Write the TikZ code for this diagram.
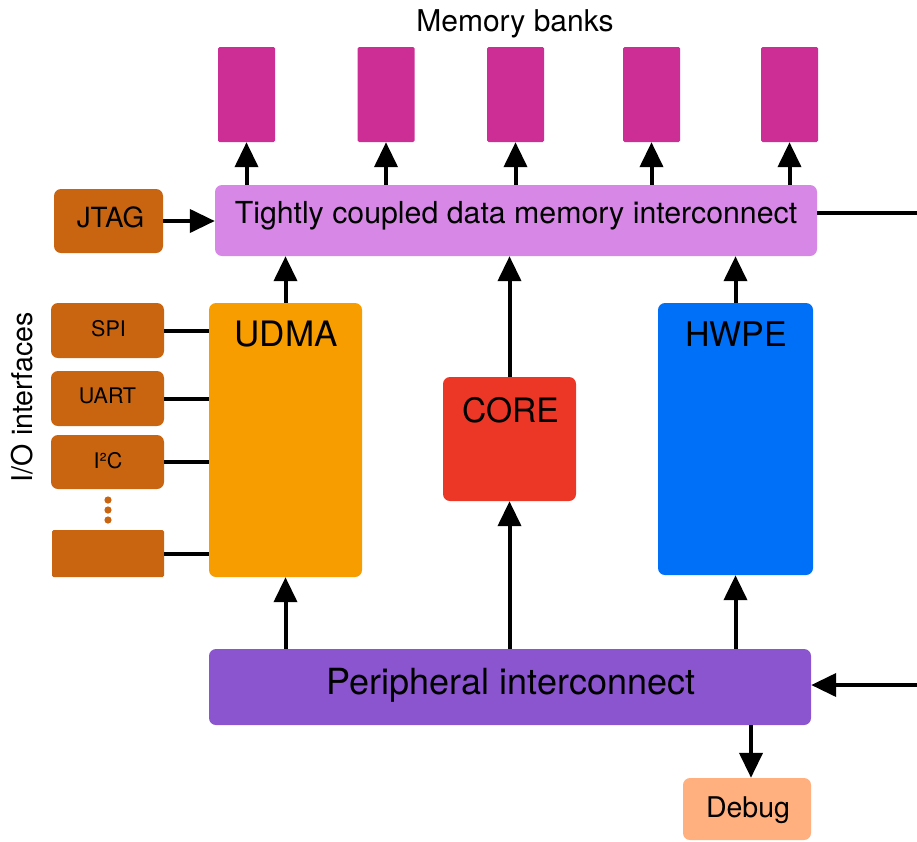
\documentclass[tikz,border=0pt]{standalone}
\usepackage{fontspec}
\setmainfont{TeX Gyre Heros}
\usetikzlibrary{arrows.meta}
\definecolor{bankc}{RGB}{204,46,150}
\definecolor{tcdmc}{RGB}{215,135,230}
\definecolor{ioc}{RGB}{201,101,17}
\definecolor{udmac}{RGB}{247,157,0}
\definecolor{corec}{RGB}{236,54,38}
\definecolor{hwpec}{RGB}{0,112,249}
\definecolor{perc}{RGB}{139,85,207}
\definecolor{dbgc}{RGB}{255,176,126}
\newcommand{\fs}[1]{\fontsize{#1}{#1}\selectfont}
\tikzset{
  box/.style={rectangle, rounded corners=7pt, inner sep=0pt, draw=none},
  bank/.style={rectangle, rounded corners=1.5pt, fill=bankc, minimum width=57pt, minimum height=95pt, inner sep=0pt},
  iobox/.style={box, fill=ioc, minimum width=113pt},
  lbl/.style={anchor=base, inner sep=0pt},
  arr/.style={line width=4pt, -{Triangle[length=25pt,width=23pt]}},
  ln/.style={line width=4pt},
}
\begin{document}
\begin{tikzpicture}[x=1pt,y=-1pt]
\useasboundingbox (0,0) rectangle (917,841);
% title
\node[lbl, font=\fs{30}] (title) at (515,31) {Memory banks};
% banks
\node[bank] (b1) at (246.5,94.5) {};
\node[bank] (b2) at (386,94.5) {};
\node[bank] (b3) at (515.5,94.5) {};
\node[bank] (b4) at (651.5,94.5) {};
\node[bank] (b5) at (789.5,94.5) {};
% TCDM
\node[box, fill=tcdmc, minimum width=602pt, minimum height=71pt] (tcdm) at (516,220.5) {};
\node[lbl, font=\fs{30.3}] (tcdmt) at (516,223) {Tightly coupled data memory interconnect};
% JTAG
\node[box, fill=ioc, minimum width=109pt, minimum height=64pt] (jtag) at (108.5,221) {};
\node[lbl, font=\fs{27.8}] (jtagt) at (110.5,227) {JTAG};
% IO
\node[lbl, rotate=90, font=\fs{28.6}] (iolab) at (32,397) {I/O interfaces};
\node[iobox, minimum height=55pt] (spi) at (107.5,330.5) {};
\node[lbl, font=\fs{21.5}] (spit) at (108.5,336) {SPI};
\node[iobox, minimum height=55pt] (uart) at (107.5,398.5) {};
\node[lbl, font=\fs{21.5}] (uartt) at (107.5,403) {UART};
\node[iobox, minimum height=54pt] (i2c) at (107.5,462) {};
\node[lbl, font=\fs{21.5}] (i2ct) at (108,468) {I²C};
\node[box, rounded corners=1.5pt, fill=ioc, minimum width=112pt, minimum height=47pt] (iox) at (108,553.5) {};
\foreach \yy in {500,510,520}
  \fill[ioc] (108,\yy) circle (3.6pt);
% UDMA, CORE, HWPE
\node[box, fill=udmac, minimum width=153pt, minimum height=274pt] (udma) at (285.5,440) {};
\node[lbl, font=\fs{35}] (udmat) at (286,346) {UDMA};
\node[box, fill=corec, minimum width=133pt, minimum height=124pt] (core) at (509.5,439) {};
\node[lbl, font=\fs{33.6}] (coret) at (510.5,422) {CORE};
\node[box, fill=hwpec, minimum width=155pt, minimum height=272pt] (hwpe) at (735.5,439) {};
\node[lbl, font=\fs{34}] (hwpet) at (736,346) {HWPE};
% Peripheral
\node[box, fill=perc, minimum width=602pt, minimum height=76pt] (per) at (510,687) {};
\node[lbl, font=\fs{36}] (pert) at (511,694) {Peripheral interconnect};
% Debug
\node[box, fill=dbgc, minimum width=128pt, minimum height=62pt] (dbg) at (747,809) {};
\node[lbl, font=\fs{28.5}] (dbgt) at (748,817) {Debug};
\coordinate (inR) at (917,685);
\coordinate (outR) at (917,213);
% arrows to banks
\foreach \b in {b1,b2,b3,b4,b5}
  \draw[arr] (\b.south |- tcdm.north) -- (\b.south);
\draw[arr] (jtag.east) -- (tcdm.west |- jtag.east);
\draw[ln] (tcdm.east |- outR) -- (outR);
% IO to UDMA
\foreach \n in {spi,uart,i2c,iox}
  \draw[ln] (\n.east) -- (udma.west |- \n.east);
% up to TCDM
\draw[arr] (udma.north) -- (udma.north |- tcdm.south);
\draw[arr] (core.north) -- (core.north |- tcdm.south);
\draw[arr] (hwpe.north) -- (hwpe.north |- tcdm.south);
% peripheral up
\draw[arr] (udma.south |- per.north) -- (udma.south);
\draw[arr] (core.south |- per.north) -- (core.south);
\draw[arr] (hwpe.south |- per.north) -- (hwpe.south);
\draw[arr] ([xshift=4pt]dbg.north |- per.south) -- ([xshift=4pt]dbg.north);
\draw[arr] (inR) -- (per.east |- inR);
\end{tikzpicture}
\end{document}
